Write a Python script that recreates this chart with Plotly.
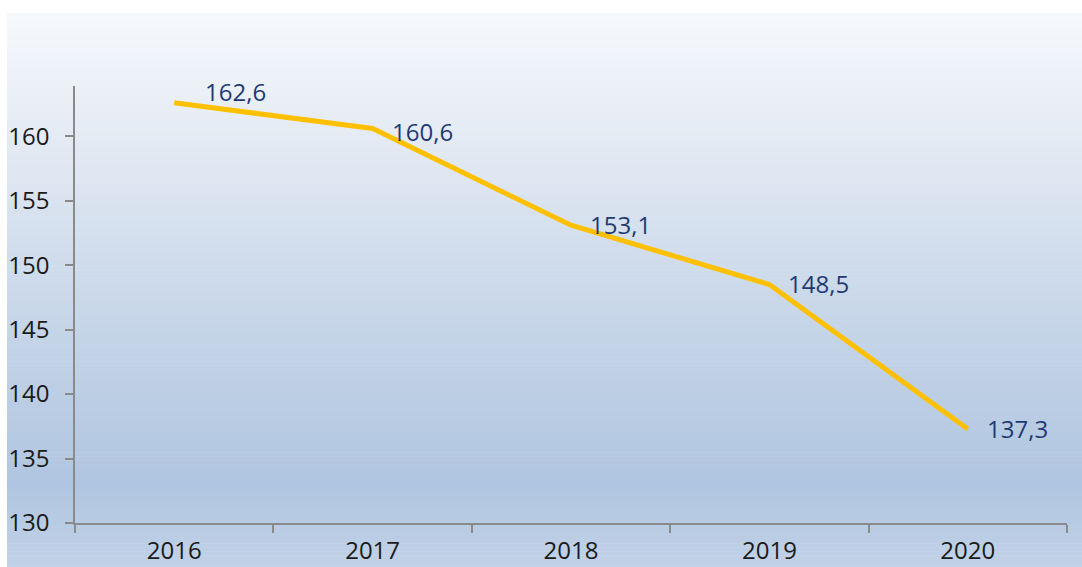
import plotly.graph_objects as go

years = ["2016", "2017", "2018", "2019", "2020"]
values = [162.6, 160.6, 153.1, 148.5, 137.3]
value_labels = ["162,6", "160,6", "153,1", "148,5", "137,3"]
label_xshift = [29, 17, 17, 17, 17]
label_yshift = [11, -3, 1, 1, 0]
y_ticks = [130, 135, 140, 145, 150, 155, 160]

W, H = 1082, 567
ml, mr, mt, mb = 75, 15, 86, 44
pw, ph = W - ml - mr, H - mt - mb

FONT = "Open Sans"
FS = 24

fig = go.Figure()
fig.add_trace(go.Scatter(
    x=years, y=values, mode="lines",
    line=dict(color="#FFC000", width=5),
    hoverinfo="skip", showlegend=False,
))

for i, (y, t, xs, ys) in enumerate(zip(values, value_labels, label_xshift, label_yshift)):
    fig.add_annotation(x=i, y=y, xref="x", yref="y", text=t, showarrow=False,
                       xanchor="left", yanchor="middle", xshift=xs, yshift=ys,
                       font=dict(family=FONT, size=FS, color="#1F3A73"))

# gradient background
stops = [(0.0, (246, 249, 252)), (0.25, (226, 233, 243)), (0.5, (203, 217, 234)),
         (0.85, (176, 197, 224)), (1.0, (193, 210, 232))]

def col(f):
    for (f0, c0), (f1, c1) in zip(stops[:-1], stops[1:]):
        if f0 <= f <= f1:
            t = (f - f0) / (f1 - f0) if f1 > f0 else 0
            return "rgb(%d,%d,%d)" % tuple(round(a + (b - a) * t) for a, b in zip(c0, c1))
    return "rgb(%d,%d,%d)" % stops[-1][1]

top_px, bot_px, left_px = 13, H, 7
n = 140
shapes = []
for i in range(n):
    p0 = top_px + (bot_px - top_px) * i / n
    p1 = top_px + (bot_px - top_px) * (i + 1) / n + 0.6
    f = (i + 0.5) / n
    shapes.append(dict(
        type="rect", xref="paper", yref="paper", layer="below",
        x0=(left_px - ml) / pw, x1=(W - ml) / pw,
        y0=(H - mb - p1) / ph, y1=(H - mb - p0) / ph,
        fillcolor=col(f), line=dict(width=0),
    ))

axis_common = dict(
    ticks="outside", ticklen=8, tickcolor="#8a8a8a", tickwidth=1.5,
    showline=True, linecolor="#8a8a8a", linewidth=1.5,
    showgrid=False, zeroline=False, automargin=False,
    tickfont=dict(family=FONT, size=FS, color="#1a1a1a"),
)

fig.update_layout(
    width=W, height=H,
    margin=dict(l=ml, r=mr, t=mt, b=mb, autoexpand=False),
    paper_bgcolor="white", plot_bgcolor="rgba(0,0,0,0)",
    shapes=shapes,
    font=dict(family=FONT, size=FS, color="#1a1a1a"),
    xaxis=dict(type="category", tickson="boundaries", range=[-0.5, 4.5],
               ticklabelstandoff=5, **axis_common),
    yaxis=dict(range=[130, 163.9], tickvals=y_ticks, ticklabelstandoff=11, **axis_common),
)

fig.write_html(
    "out.html",
    config={"displayModeBar": False},
    post_script="document.body.style.margin='0';document.body.style.overflow='hidden';",
)
